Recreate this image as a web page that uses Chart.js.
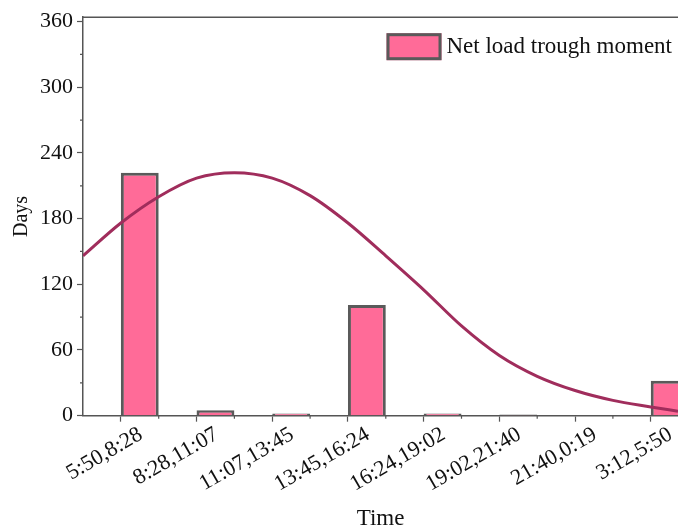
<!DOCTYPE html>
<html>
<head>
<meta charset="utf-8">
<script src="https://cdn.jsdelivr.net/npm/chart.js@4.4.1/dist/chart.umd.min.js"></script>
<style>
  html, body { margin: 0; padding: 0; background: #fff; }
  #wrap { width: 678px; height: 529px; }
</style>
</head>
<body>
<div id="wrap"><canvas id="chart" width="678" height="529"></canvas></div>
<script>
// ========== Dados ==========
const binLabels = ['5:50,8:28', '8:28,11:07', '11:07,13:45', '13:45,16:24',
  '16:24,19:02', '19:02,21:40', '21:40,0:19', '3:12,5:50'];
const binCounts = [222, 5, 2, 101, 2, 1, 0, 32];

// curva ajustada (posição em unidades de intervalo)
const curveX = [-0.5, 0, 0.5, 1.0, 1.5, 2.0, 2.5, 3.0, 3.5, 4.0, 4.5, 5.0, 5.5, 6.0, 6.5, 7.0, 7.36];
const curveY = [146, 176, 200, 217, 222, 217, 201, 176, 146, 115, 82, 55, 36, 23, 14, 8, 4];

const yTicks = [0, 60, 120, 180, 240, 300, 360];

const serif = '"Liberation Serif", "DejaVu Serif", serif';

// ========== Plugin: borda superior, ticks menores e legenda ==========
const framePlugin = {
  id: 'frame',
  afterDraw(chart) {
    const { ctx, chartArea: a, scales: { x, y } } = chart;
    ctx.save();
    ctx.strokeStyle = '#555';
    ctx.lineWidth = 1.5;
    ctx.beginPath();
    ctx.moveTo(a.left, a.top);
    ctx.lineTo(a.right, a.top);
    ctx.stroke();
    ctx.lineWidth = 1.2;
    ctx.beginPath();
    for (let v = 30; v < 364; v += 60) {
      const py = y.getPixelForValue(v);
      ctx.moveTo(a.left - 3, py);
      ctx.lineTo(a.left, py);
    }
    for (let i = 0; i < binLabels.length; i++) {
      const px = x.getPixelForValue(i + 0.5);
      if (px > a.right) continue;
      ctx.moveTo(px, a.bottom);
      ctx.lineTo(px, a.bottom + 3);
    }
    ctx.stroke();

    // legenda
    const ds = chart.data.datasets[1];
    ctx.font = '23px ' + serif;
    const tw = ctx.measureText(ds.label).width;
    const tx = a.right - 6 - tw;
    const bx = tx - 5 - 55;
    const by = a.top + 16;
    ctx.fillStyle = ds.backgroundColor;
    ctx.fillRect(bx, by, 55, 27);
    ctx.strokeStyle = ds.borderColor;
    ctx.lineWidth = 3;
    ctx.strokeRect(bx + 1.5, by + 1.5, 52, 24);
    ctx.fillStyle = '#111';
    ctx.textBaseline = 'middle';
    ctx.fillText(ds.label, tx, by + 14);
    ctx.restore();
  }
};

const ctx = document.getElementById('chart').getContext('2d');
new Chart(ctx, {
  data: {
    datasets: [
      {
        type: 'line',
        label: 'fit',
        data: curveX.map((v, i) => ({ x: v, y: curveY[i] })),
        borderColor: '#A02D5C',
        borderWidth: 3,
        pointRadius: 0,
        tension: 0.4,
        cubicInterpolationMode: 'monotone',
        order: 0
      },
      {
        type: 'bar',
        label: 'Net load trough moment',
        data: binCounts.map((v, i) => ({ x: i + 0.25, y: v })),
        backgroundColor: '#FF6B98',
        borderColor: '#5a5a5a',
        borderWidth: 3,
        categoryPercentage: 1,
        barPercentage: 0.5,
        order: 1
      }
    ]
  },
  options: {
    responsive: false,
    animation: false,
    layout: { padding: { left: 6, right: 0, top: 4, bottom: 2 } },
    plugins: {
      tooltip: { enabled: false },
      legend: { display: false }
    },
    scales: {
      x: {
        type: 'linear',
        offset: false,
        min: -0.5,
        max: 7.36,
        afterBuildTicks: axis => { axis.ticks = binLabels.map((_, i) => ({ value: i })); },
        ticks: {
          callback: v => binLabels[v],
          color: '#111',
          font: { family: serif, size: 22 },
          minRotation: 30,
          maxRotation: 30,
          labelOffset: 20,
          padding: 0
        },
        grid: { offset: false, drawOnChartArea: false, tickLength: 6, tickColor: '#555', tickWidth: 1.2 },
        border: { color: '#555', width: 1.5 },
        title: { display: true, text: 'Time', color: '#111', font: { family: serif, size: 23 }, padding: { top: 8, bottom: -6 } }
      },
      y: {
        min: 0,
        max: 364,
        afterBuildTicks: axis => { axis.ticks = yTicks.map(v => ({ value: v })); },
        ticks: {
          color: '#111',
          font: { family: serif, size: 22 },
          padding: 4
        },
        grid: { drawOnChartArea: false, tickLength: 6, tickColor: '#555', tickWidth: 1.2 },
        border: { color: '#555', width: 1.5 },
        title: { display: true, text: 'Days', color: '#111', font: { family: serif, size: 20 }, padding: { bottom: 2 } }
      }
    }
  },
  plugins: [framePlugin]
});
</script>
</body>
</html>
